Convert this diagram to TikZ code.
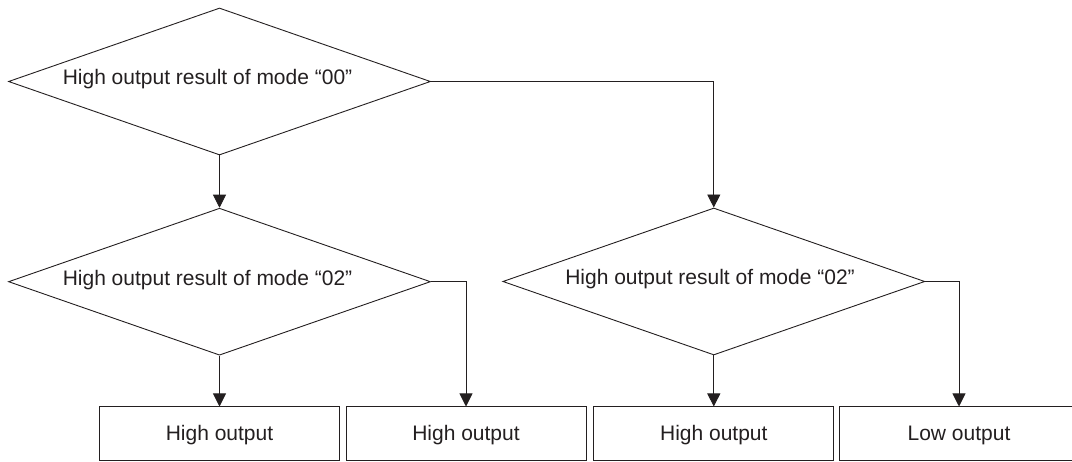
\documentclass[tikz,border=0pt]{standalone}
\usepackage{fontspec}
\setmainfont{Liberation Sans}
\usetikzlibrary{shapes.geometric,arrows.meta}
\definecolor{ink}{HTML}{231F20}
\begin{document}
\begin{tikzpicture}[x=1pt,y=-1pt,
  every node/.style={font=\fontsize{21pt}{25pt}\selectfont, text=ink},
  decision/.style={draw=ink, line width=0.9pt, shape=diamond, inner sep=0pt,
    minimum width=422pt, minimum height=147pt},
  dtext/.style={anchor=base, inner sep=0pt},
  outbox/.style={draw=ink, line width=1pt, rectangle, minimum width=240pt,
    minimum height=54pt, text height=14pt, text depth=0pt, inner sep=0pt},
  flow/.style={draw=ink, line width=0.9pt, -{Triangle[length=13pt,width=13pt]}},
  link/.style={draw=ink, line width=0.9pt}]
\useasboundingbox (0,0) rectangle (1072,462);

\node[decision] (d0) at (219.5,81.5) {};
\node[dtext] (t0) at (207.5,84.3) {High output result of mode “00”};

\node[decision] (d1) at (219.5,281.7) {};
\node[dtext] (t1) at (207.5,286) {High output result of mode “02”};

\node[decision] (d2) at (713.8,281.5) {};
\node[dtext] (t2) at (710,285) {High output result of mode “02”};

\node[outbox] (b1) at (219.5,434) {High output};
\node[outbox] (b2) at (466,434) {High output};
\node[outbox] (b3) at (713.8,434) {High output};
\node[outbox] (b4) at (959,434) {Low output};

\draw[flow] (d0.south) -- (d1.north);
\draw[flow] (d0.east) -| (d2.north);
\draw[flow] (d1.south) -- (b1.north);
\draw[flow] (d1.east) -| (b2.north);
\draw[flow] (d2.south) -- (b3.north);
\draw[flow] (d2.east) -| (b4.north);
\end{tikzpicture}
\end{document}
